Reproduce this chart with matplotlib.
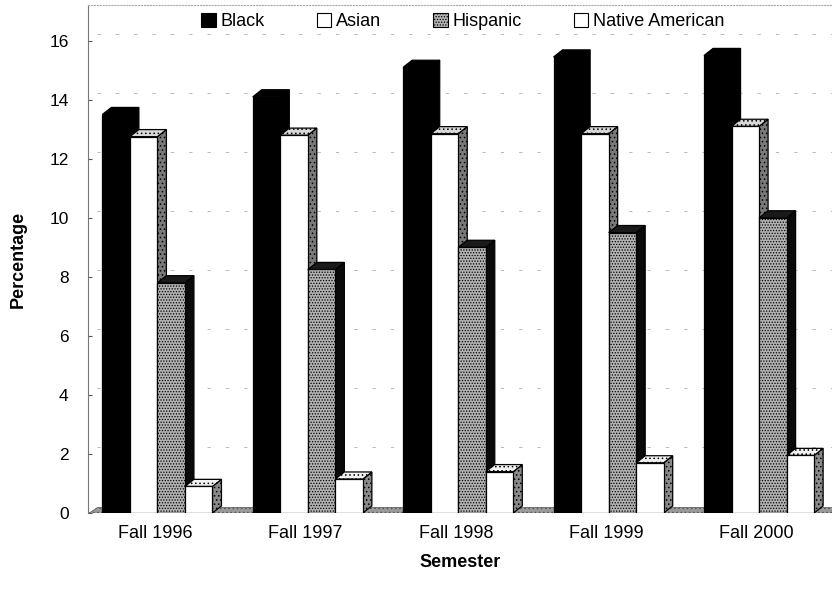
import numpy as np
import matplotlib
matplotlib.use("Agg")
import matplotlib.pyplot as plt
from matplotlib.patches import Polygon, Patch

plt.rcParams["font.family"] = ["Liberation Sans", "DejaVu Sans"]
plt.rcParams["hatch.color"] = "#6e6e6e"
plt.rcParams["hatch.linewidth"] = 0.6

semesters = ["Fall 1996", "Fall 1997", "Fall 1998", "Fall 1999", "Fall 2000"]
groups = ["Black", "Asian", "Hispanic", "Native American"]
black = [13.5, 14.1, 15.1, 15.45, 15.5]
asian = [12.75, 12.8, 12.85, 12.85, 13.1]
hispanic = [7.8, 8.25, 9.0, 9.5, 10.0]
native = [0.9, 1.15, 1.4, 1.7, 1.95]
series = [black, asian, hispanic, native]

# front, side, top colours and hatch for each series
front_col = ["#000000", "#ffffff", "#b2b2b2", "#ffffff"]
front_hatch = [None, None, "......", None]
side_col = ["#000000", "#7a7a7a", "#0a0a0a", "#8a8a8a"]
side_hatch = [None, "....", None, "...."]
top_col = ["#000000", "#d8d8d8", "#1a1a1a", "#f2f2f2"]

fig = plt.figure(figsize=(8.32, 5.91), dpi=100)
ax = fig.add_axes([0.106, 0.132, 0.894, 0.859])

xlo, xhi = -0.445, 4.5
ax.set_xlim(xlo, xhi)
ax.set_ylim(0, 17.2)

w = 0.183
dx, dy = 0.06, 0.24
x = np.arange(len(semesters))

# faint dashed background gridlines
for v in range(2, 17, 2):
    ax.plot([xlo + dx, xhi], [v + dy, v + dy], color="#b0b0b0", lw=0.6,
            ls=(0, (4, 18)), zorder=0)

# floor
ax.add_patch(Polygon([(xlo, 0), (xhi, 0), (xhi, dy * 0.9), (xlo + dx, dy * 0.9)],
                     closed=True, facecolor="#9a9a9a", edgecolor="#555555",
                     hatch="....", lw=0.5, zorder=1))

for j, vals in enumerate(series):
    off = (j - 1.5) * w + 0.015
    z = 2 + j * 3
    for i, v in enumerate(vals):
        x0 = x[i] + off - w / 2
        x1 = x0 + w
        ax.add_patch(Polygon([(x1, 0), (x1 + dx, dy), (x1 + dx, v + dy), (x1, v)],
                             closed=True, facecolor=side_col[j], edgecolor="black",
                             hatch=side_hatch[j], lw=0.9, zorder=z))
        ax.add_patch(Polygon([(x0, v), (x1, v), (x1 + dx, v + dy), (x0 + dx, v + dy)],
                             closed=True, facecolor=top_col[j], edgecolor="black",
                             hatch=side_hatch[j], lw=0.9, zorder=z + 1))
    ax.bar(x + off, vals, width=w, color=front_col[j], edgecolor="black",
           hatch=front_hatch[j], lw=0.9, zorder=z + 2)

ax.set_xticks(x)
ax.set_xticklabels(semesters, fontsize=13)
ax.tick_params(axis="x", length=0, pad=9)
ax.set_yticks(range(0, 17, 2))
ax.tick_params(axis="y", direction="in", length=3, labelsize=12.5, pad=14,
               color="#555555")

for s in ["right", "bottom"]:
    ax.spines[s].set_visible(False)
ax.spines["left"].set_color("#777777")
ax.spines["top"].set_color("#aaaaaa")
ax.spines["top"].set_linestyle(":")
ax.spines["top"].set_linewidth(0.8)

ax.set_ylabel("Percentage", fontsize=13, fontweight="bold", labelpad=16)
ax.set_xlabel("Semester", fontsize=13, fontweight="bold", labelpad=8)

handles = [Patch(facecolor=front_col[j], edgecolor="black", hatch=front_hatch[j],
                 lw=0.8) for j in range(4)]
fig.legend(handles, groups, loc="upper center", bbox_to_anchor=(0.556, 1.005),
           ncol=4, frameon=False, fontsize=13, handlelength=0.8,
           handleheight=0.8, handletextpad=0.25, columnspacing=2.9)

fig.savefig("out.png", dpi=100)
